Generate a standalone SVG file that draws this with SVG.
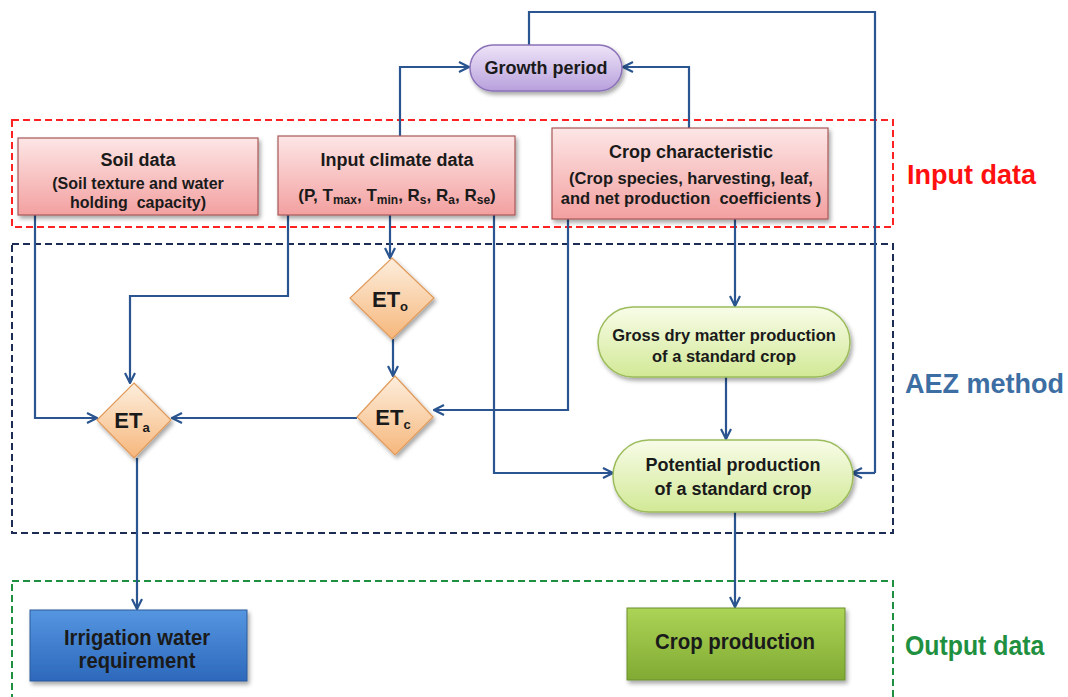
<svg xmlns="http://www.w3.org/2000/svg" width="1068" height="697" viewBox="0 0 1068 697">
<defs>
<linearGradient id="gPink" x1="0" y1="0" x2="0" y2="1"><stop offset="0" stop-color="#fde6e6"/><stop offset="1" stop-color="#f3a0a0"/></linearGradient>
<linearGradient id="gPurple" x1="0" y1="0" x2="0" y2="1"><stop offset="0" stop-color="#eee4f8"/><stop offset="1" stop-color="#b8a0dc"/></linearGradient>
<linearGradient id="gDia" x1="0" y1="0" x2="0" y2="1"><stop offset="0" stop-color="#fdeedd"/><stop offset="1" stop-color="#f6b77c"/></linearGradient>
<linearGradient id="gPill" x1="0" y1="0" x2="0" y2="1"><stop offset="0" stop-color="#f8fce8"/><stop offset="1" stop-color="#d2e996"/></linearGradient>
<linearGradient id="gBlue" x1="0" y1="0" x2="0" y2="1"><stop offset="0" stop-color="#5596e0"/><stop offset="1" stop-color="#2d68bc"/></linearGradient>
<linearGradient id="gGreen" x1="0" y1="0" x2="0" y2="1"><stop offset="0" stop-color="#acd456"/><stop offset="1" stop-color="#80aa32"/></linearGradient>
<filter id="sh" x="-10%" y="-10%" width="125%" height="130%"><feDropShadow dx="2" dy="3" stdDeviation="2" flood-color="#000" flood-opacity="0.35"/></filter>
<marker id="arr" viewBox="0 0 12 12" refX="11" refY="6" markerWidth="12" markerHeight="12" markerUnits="userSpaceOnUse" orient="auto">
<path d="M1,1 L11,6 L1,11" fill="none" stroke="#2a5590" stroke-width="2.2"/>
</marker>
<style>
.t{font-family:"Liberation Sans",Arial,sans-serif;font-weight:bold;fill:#1a1a1a;text-anchor:middle}
.box{fill:url(#gPink);stroke:#a85858;stroke-width:1.2;filter:url(#sh)}
.dia{fill:url(#gDia);stroke:#e09a5a;stroke-width:1.2;filter:url(#sh)}
.pill{fill:url(#gPill);stroke:#9cbc5c;stroke-width:1.5;filter:url(#sh)}
.c{fill:none;stroke:#2a5590;stroke-width:2.2;marker-end:url(#arr)}
.cn{fill:none;stroke:#2a5590;stroke-width:2.2}
.lab{font-family:"Liberation Sans",Arial,sans-serif;font-weight:bold;font-size:27px}
</style>
</defs>
<rect width="1068" height="697" fill="#ffffff"/>

<g id="groups">
<rect x="12" y="120" width="881" height="107" fill="none" stroke="#ff2222" stroke-width="2" stroke-dasharray="7,4"/>
<rect x="12" y="244" width="881" height="289" fill="none" stroke="#1d2c55" stroke-width="2" stroke-dasharray="7,4"/>
<rect x="12" y="581" width="881" height="125" fill="none" stroke="#1e9040" stroke-width="2" stroke-dasharray="7,4"/>
<text class="lab" x="907" y="184" fill="#ff1010">Input data</text>
<text class="lab" x="905" y="393" fill="#3d6ea3">AEZ method</text>
<text class="lab" x="905" y="655" fill="#1e9040" transform="translate(905,0) scale(0.92,1) translate(-905,0)" font-size="30">Output data</text>
</g>

<g id="connectors">
<path class="cn" d="M529,45 V12 H875 V473"/>
<path class="c" d="M875,473 H852"/>
<path class="c" d="M400,136 V67 H469"/>
<path class="c" d="M689,128 V67 H623"/>
<path class="c" d="M390,215 V258"/>
<path class="c" d="M393,339 V376"/>
<path class="c" d="M568,219 V410 H434"/>
<path class="c" d="M357,418 H172"/>
<path class="c" d="M288,215 V296 H130 V383"/>
<path class="c" d="M35,215 V418 H97"/>
<path class="c" d="M137,458 V609"/>
<path class="c" d="M494,215 V473 H613"/>
<path class="c" d="M735,219 V306"/>
<path class="c" d="M726,377 V439"/>
<path class="c" d="M735,512 V607"/>
</g>

<g id="growth-period">
<rect x="470" y="45" width="152" height="46" rx="23" fill="url(#gPurple)" stroke="#8b72b8" stroke-width="1.5" filter="url(#sh)"/>
<text class="t" x="546" y="74" font-size="18">Growth period</text>
</g>

<g id="soil-data">
<rect class="box" x="18" y="138" width="240" height="77"/>
<text class="t" x="138" y="166" font-size="18">Soil data</text>
<text class="t" x="138" y="189" font-size="16">(Soil texture and water</text>
<text class="t" x="138" y="208" font-size="16">holding&#160; capacity)</text>
</g>

<g id="input-climate-data">
<rect class="box" x="278" y="136" width="237" height="79"/>
<text class="t" x="397" y="166" font-size="18">Input climate data</text>
<text class="t" x="397" y="201" font-size="17">(P, T<tspan font-size="12" dy="3">max</tspan><tspan dy="-3">, T</tspan><tspan font-size="12" dy="3">min</tspan><tspan dy="-3">, R</tspan><tspan font-size="12" dy="3">s</tspan><tspan dy="-3">, R</tspan><tspan font-size="12" dy="3">a</tspan><tspan dy="-3">, R</tspan><tspan font-size="12" dy="3">se</tspan><tspan dy="-3">)</tspan></text>
</g>

<g id="crop-characteristic">
<rect class="box" x="552" y="128" width="276" height="91"/>
<text class="t" x="691" y="158" font-size="18">Crop characteristic</text>
<text class="t" x="691" y="184" font-size="16.5">(Crop species, harvesting, leaf,</text>
<text class="t" x="691" y="204" font-size="16.5">and net production&#160; coefficients )</text>
</g>

<g id="eto">
<polygon class="dia" points="392,258 434,298 392,339 350,298"/>
<text class="t" x="390" y="307" font-size="22">ET<tspan font-size="13" dy="4">o</tspan></text>
</g>

<g id="etc">
<polygon class="dia" points="395,376 433,417 395,455 357,417"/>
<text class="t" x="393" y="425" font-size="22">ET<tspan font-size="13" dy="4">c</tspan></text>
</g>

<g id="eta">
<polygon class="dia" points="134,383 171,420 134,458 97,420"/>
<text class="t" x="132" y="428" font-size="22">ET<tspan font-size="13" dy="4">a</tspan></text>
</g>

<g id="gross-dry-matter">
<rect class="pill" x="598" y="307" width="252" height="70" rx="35"/>
<text class="t" x="724" y="341" font-size="16.5">Gross dry matter production</text>
<text class="t" x="724" y="362" font-size="16.5">of a standard crop</text>
</g>

<g id="potential-production">
<rect class="pill" x="613" y="440" width="240" height="72" rx="36"/>
<text class="t" x="733" y="471" font-size="18">Potential production</text>
<text class="t" x="733" y="495" font-size="18">of a standard crop</text>
</g>

<g id="irrigation-water">
<rect x="30" y="610" width="217" height="71" fill="url(#gBlue)" stroke="#2a5a9a" stroke-width="1" filter="url(#sh)"/>
<text class="t" x="137" y="645" font-size="22" transform="translate(137,0) scale(0.92,1) translate(-137,0)" fill="#141428">Irrigation water</text>
<text class="t" x="137" y="668" font-size="22" transform="translate(137,0) scale(0.92,1) translate(-137,0)" fill="#141428">requirement</text>
</g>

<g id="crop-production">
<rect x="627" y="608" width="218" height="72" fill="url(#gGreen)" stroke="#6a9030" stroke-width="1" filter="url(#sh)"/>
<text class="t" x="735" y="649" font-size="22" transform="translate(735,0) scale(0.93,1) translate(-735,0)" fill="#141414">Crop production</text>
</g>
</svg>
